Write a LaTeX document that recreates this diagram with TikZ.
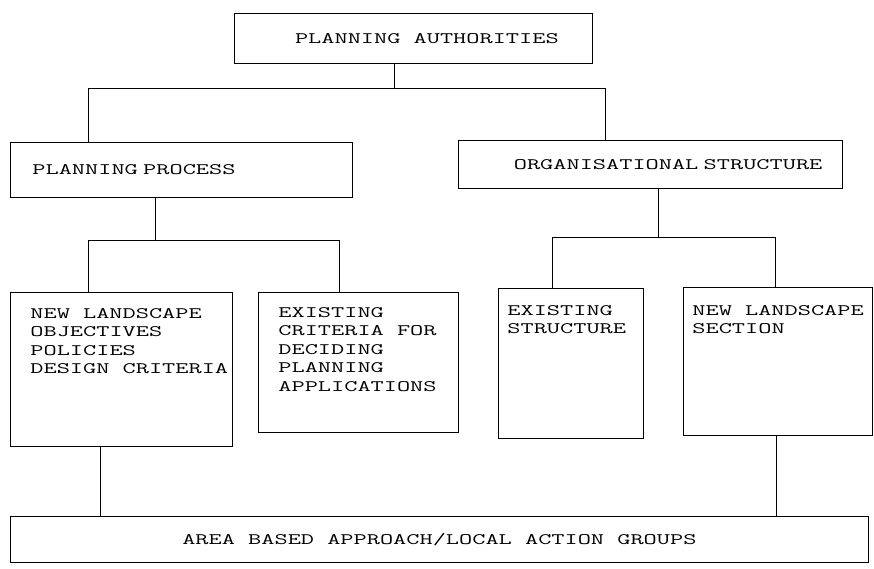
\documentclass[tikz,border=0pt]{standalone}
\usepackage{fontspec}
\newfontfamily\dotfont{Latin Modern Mono}[FakeStretch=1.6]
\usepackage{tikz}
\usetikzlibrary{positioning}

\begin{document}
\begin{tikzpicture}[x=1pt,y=-1pt,line width=0.8pt,
      box/.style={rectangle,draw,anchor=north west,inner sep=0pt},
      words/.style={inner sep=0pt,align=left,font=\dotfont\fontsize{16}{18.5}\selectfont}]
      \useasboundingbox (0,0) rectangle (874,569);
      \node[box,minimum width=358,minimum height=50,words] (auth) at (234,13) {\hspace*{27pt}PLANNING AUTHORITIES};
      \node[box,minimum width=342,minimum height=55,words,text width=298] (process) at (10,142) {PLANNING PROCESS};
      \node[box,minimum width=384,minimum height=48,words,text width=344,align=right] (struct) at (458,140) {ORGANISATIONAL STRUCTURE};
      \node[box,minimum width=222,minimum height=154] (objectives) at (10,292) {};
      \node[words,below right=16pt and 20pt of objectives.north west] (objectivestext) {NEW LANDSCAPE\\OBJECTIVES\\POLICIES\\DESIGN CRITERIA};
      \node[box,minimum width=200,minimum height=140] (criteria) at (258,292) {};
      \node[words,below right=15pt and 20pt of criteria.north west] (criteriatext) {EXISTING\\CRITERIA FOR\\DECIDING\\PLANNING\\APPLICATIONS};
      \node[box,minimum width=145,minimum height=150] (existing) at (498,288) {};
      \node[words,below right=17pt and 9pt of existing.north west] (existingtext) {EXISTING\\STRUCTURE};
      \node[box,minimum width=189,minimum height=148] (section) at (683,287) {};
      \node[words,below right=18pt and 9pt of section.north west] (sectiontext) {NEW LANDSCAPE\\SECTION};
      \node[box,minimum width=858,minimum height=46,words] (groups) at (10,516) {AREA BASED APPROACH/LOCAL ACTION GROUPS};
      \coordinate (authfork) at (394,88);
      \coordinate (processdrop) at (88,88);
      \coordinate (structdrop) at (605,88);
      \draw (authfork |- auth.south) -- (authfork);
      \draw (processdrop |- process.north) |- (structdrop) -- (structdrop |- struct.north);
      \coordinate (processfork) at (155,240);
      \coordinate (objectivesdrop) at (88,240);
      \coordinate (criteriadrop) at (339,240);
      \draw (processfork |- process.south) -- (processfork);
      \draw (objectivesdrop |- objectives.north) -- (objectivesdrop) -- (criteriadrop) -- (criteriadrop |- criteria.north);
      \coordinate (structfork) at (658,237);
      \coordinate (existingdrop) at (552,237);
      \coordinate (sectiondrop) at (775,237);
      \draw (structfork |- struct.south) -- (structfork);
      \draw (existingdrop |- existing.north) -- (existingdrop) -- (sectiondrop) -- (sectiondrop |- section.north);
      \coordinate (leftlink) at (100,0);
      \coordinate (rightlink) at (776,0);
      \draw (objectives.south -| leftlink) -- (groups.north -| leftlink);
      \draw (section.south -| rightlink) -- (groups.north -| rightlink);
    \end{tikzpicture}
\end{document}
